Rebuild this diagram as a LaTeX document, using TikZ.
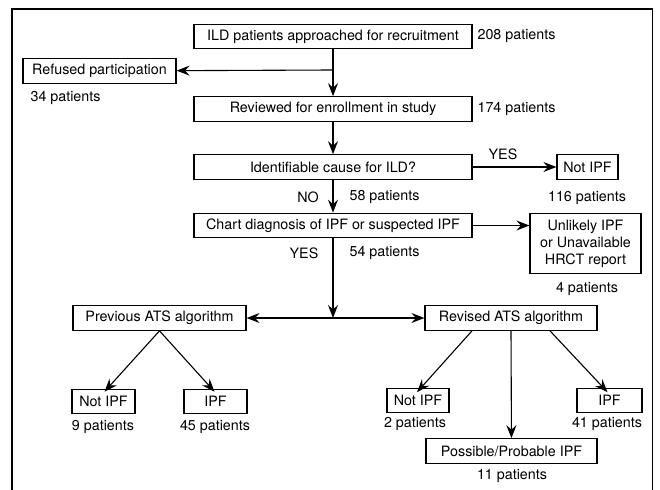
\documentclass[tikz,border=0pt]{standalone}
\usepackage{fontspec}
\setmainfont{TeX Gyre Heros}
\usetikzlibrary{arrows.meta}

\begin{document}
\begin{tikzpicture}[x=1pt, y=-1pt,
    font=\fontsize{14.3}{17}\selectfont,
    line width=1.1pt,
    flowbox/.style={draw, line width=1.2pt, inner sep=0pt, minimum height=24.5pt, align=center},
    count/.style={inner sep=0pt},
    flow/.style={-{Stealth[length=13pt, width=10pt, inset=4.5pt]}},
    twoway/.style={{Stealth[length=13pt, width=10pt, inset=4.5pt]}-{Stealth[length=13pt, width=10pt, inset=4.5pt]}}]
    \useasboundingbox (0,0) rectangle (660,489);
    % frame, open at the bottom
    \draw[line width=1.2pt] (12,495) -- (12,9) -- (652.5,9) -- (652.5,495);
    % main column
    \node[flowbox, minimum width=278pt] (approached) at (333,36.5) {ILD patients approached for recruitment};
    \node[flowbox, minimum width=153pt] (refused) at (99.5,71) {Refused participation};
    \node[flowbox, minimum width=278pt] (reviewed) at (333,109) {Reviewed for enrollment in study};
    \node[flowbox, minimum width=278pt] (cause) at (333,167) {Identifiable cause for ILD?};
    \node[flowbox, minimum width=61pt] (notipfA) at (587.5,167) {Not IPF};
    \node[flowbox, minimum width=278pt] (chart) at (333,225.5) {Chart diagnosis of IPF or suspected IPF};
    \node[flowbox, minimum width=111pt, minimum height=60pt, anchor=north] (unlikely) at (585.5,213) {Unlikely IPF\\or Unavailable\\HRCT report};
    \coordinate (split) at (333,318);
    \coordinate (refbranch) at (333,70);
    % algorithms
    \node[flowbox, minimum width=173pt] (previous) at (159.5,318) {Previous ATS algorithm};
    \node[flowbox, minimum width=172pt] (revised) at (511,318) {Revised ATS algorithm};
    \node[flowbox, minimum width=63pt] (prevnot) at (103.5,401.5) {Not IPF};
    \node[flowbox, minimum width=63pt] (previpf) at (215.5,401.5) {IPF};
    \node[flowbox, minimum width=62pt, minimum height=23.5pt] (revnot) at (418,400.5) {Not IPF};
    \node[flowbox, minimum width=65pt, minimum height=23.5pt] (revipf) at (609.5,400.5) {IPF};
    \node[flowbox, minimum width=171pt] (possible) at (511.5,451) {Possible/Probable IPF};
    % counts and answers
    \node[count, anchor=west] (n208) at (477,36) {208 patients};
    \node[count, anchor=west] (n34) at (30,98) {34 patients};
    \node[count, anchor=west] (n174) at (477,108.5) {174 patients};
    \node[count] (yesA) at (503,154) {YES};
    \node[count] (n116) at (587,198) {116 patients};
    \node[count] (noA) at (308,197) {NO};
    \node[count, anchor=west] (n58) at (349,197) {58 patients};
    \node[count] (yesB) at (304,253) {YES};
    \node[count, anchor=west] (n54) at (349,253) {54 patients};
    \node[count] (n4) at (587,289) {4 patients};
    \node[count] (n9) at (103,427) {9 patients};
    \node[count] (n45) at (215,427) {45 patients};
    \node[count] (n2) at (415,424) {2 patients};
    \node[count] (n41) at (607,424) {41 patients};
    \node[count] (n11) at (512,476) {11 patients};
    % connectors
    \draw[flow] (approached) -- (reviewed);
    \draw[flow] (refbranch) -- (refused);
    \draw[flow] (reviewed) -- (cause);
    \draw[flow] (cause) -- (notipfA);
    \draw[flow] (cause) -- (chart);
    \draw[flow] (chart) -- (unlikely.west |- chart);
    \draw[flow] (chart) -- (split);
    \draw[twoway] (previous) -- (revised);
    \draw[flow] (previous.south) -- ([xshift=1pt, yshift=-3pt]prevnot.north);
    \draw[flow] (previous.south) -- ([xshift=-1pt, yshift=-3pt]previpf.north);
    \draw[flow] ([xshift=-39pt]revised.south) -- ([xshift=-1pt, yshift=-4pt]revnot.north);
    \draw[flow] (revised.south) -- (possible);
    \draw[flow] ([xshift=39pt]revised.south) -- ([xshift=-2pt, yshift=-4pt]revipf.north);
\end{tikzpicture}
\end{document}
